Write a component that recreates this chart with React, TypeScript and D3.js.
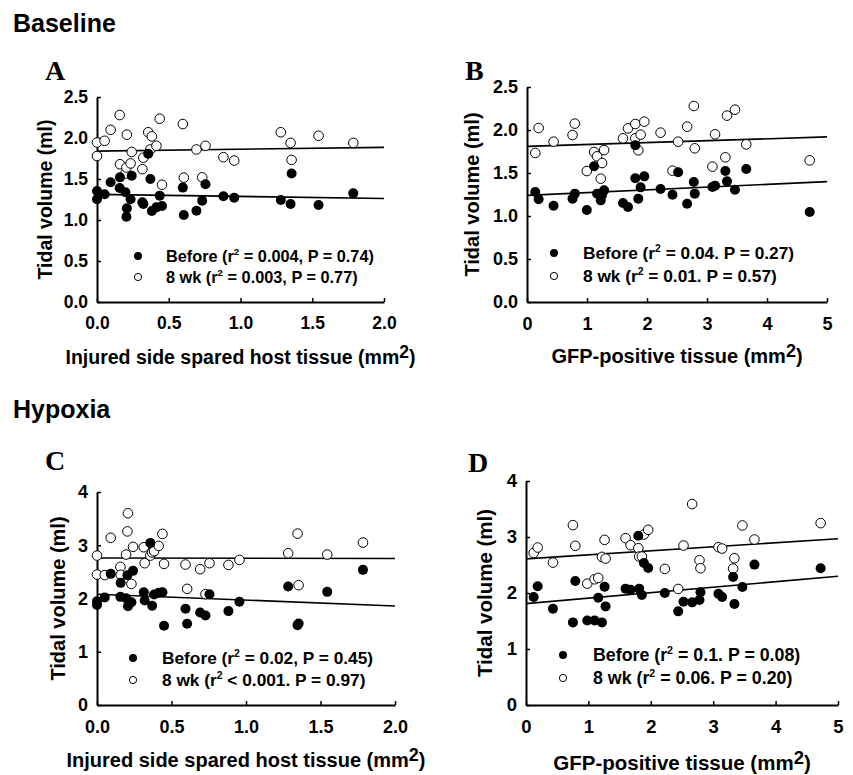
import React, { useEffect, useRef } from "react";
import * as d3 from "d3";

// tissue area (x) and tidal volume before / at 8 wk, one entry per animal
const aTissue = [0, 0, 0.053, 0.095, 0.158, 0.16, 0.198, 0.205, 0.208, 0.234, 0.242, 0.316, 0.323, 0.357, 0.372, 0.382, 0.414, 0.437, 0.453, 0.598, 0.605, 0.693, 0.733, 0.756, 0.881, 0.956, 1.281, 1.349, 1.356, 1.544, 1.786];
const aBefore = [1.354, 1.252, 1.313, 1.46, 1.39, 1.52, 1.338, 1.04, 1.142, 1.252, 1.54, 1.215, 1.195, 1.807, 1.5, 1.11, 1.154, 1.297, 1.17, 1.395, 1.06, 1.113, 1.236, 1.436, 1.289, 1.272, 1.244, 1.195, 1.566, 1.183, 1.325];
const aWeek8 = [1.945, 1.78, 1.966, 2.1, 2.28, 1.68, 1.566, 1.64, 2.04, 1.69, 1.83, 1.62, 1.76, 2.07, 1.86, 2.02, 1.905, 2.235, 1.43, 2.17, 1.517, 1.86, 1.52, 1.905, 1.766, 1.725, 2.07, 1.94, 1.733, 2.027, 1.94];

const bTissue = [0.138, 0.194, 0.443, 0.759, 0.797, 0.997, 1.118, 1.168, 1.229, 1.251, 1.285, 1.6, 1.683, 1.805, 1.805, 1.855, 1.894, 1.955, 2.226, 2.425, 2.519, 2.669, 2.78, 2.796, 3.09, 3.134, 3.306, 3.333, 3.466, 3.654, 4.712];
const bBefore = [1.279, 1.194, 1.12, 1.202, 1.26, 1.07, 1.578, 1.26, 1.182, 1.244, 1.298, 1.151, 1.105, 1.822, 1.438, 1.202, 1.333, 1.461, 1.314, 1.248, 1.508, 1.143, 1.395, 1.26, 1.337, 1.353, 1.523, 1.403, 1.306, 1.547, 1.047];
const bWeek8 = [1.733, 2.023, 1.864, 1.942, 2.074, 1.523, 1.744, 1.694, 1.434, 1.616, 1.767, 1.903, 2.019, 2.07, 1.903, 1.764, 1.946, 2.097, 1.969, 1.527, 1.864, 2.039, 2.279, 1.787, 1.574, 1.95, 1.682, 2.167, 2.236, 1.833, 1.647];

const cTissue = [0, 0, 0.052, 0.092, 0.157, 0.159, 0.195, 0.204, 0.208, 0.231, 0.242, 0.314, 0.32, 0.358, 0.37, 0.383, 0.414, 0.439, 0.45, 0.594, 0.605, 0.692, 0.728, 0.755, 0.882, 0.956, 1.283, 1.346, 1.353, 1.545, 1.785];
const cBefore = [1.88, 1.95, 2.02, 2.463, 2.031, 2.294, 2.006, 2.438, 1.856, 1.931, 2.519, 2.119, 1.963, 3.044, 1.863, 2.075, 2.106, 2.119, 1.488, 1.806, 1.525, 1.738, 1.681, 2.081, 1.763, 1.938, 2.225, 1.5, 1.531, 2.125, 2.538];
const cWeek8 = [2.806, 2.45, 2.44, 3.14, 2.594, 2.444, 2.825, 3.26, 3.6, 2.275, 2.97, 2.963, 2.663, 2.806, 2.863, 2.888, 2.988, 3.213, 2.65, 2.638, 2.181, 2.55, 2.081, 2.663, 2.631, 2.725, 2.85, 3.219, 2.25, 2.825, 3.05];

const dTissue = [0.123, 0.187, 0.432, 0.752, 0.79, 0.982, 1.099, 1.158, 1.217, 1.259, 1.275, 1.596, 1.676, 1.8, 1.814, 1.857, 1.889, 1.958, 2.225, 2.439, 2.524, 2.663, 2.78, 2.796, 3.084, 3.143, 3.319, 3.34, 3.468, 3.661, 4.722];
const dBefore = [1.928, 2.119, 1.719, 1.475, 2.215, 1.51, 1.51, 1.916, 1.475, 2.113, 1.761, 2.078, 2.06, 3.021, 2.078, 1.964, 2.537, 2.448, 2.0, 1.672, 1.845, 1.833, 1.875, 2.012, 1.988, 1.928, 2.287, 1.803, 2.107, 2.507, 2.442];
const dWeek8 = [2.716, 2.812, 2.543, 3.212, 2.842, 2.167, 2.245, 2.269, 2.645, 2.949, 2.615, 2.979, 2.854, 2.8, 2.651, 2.651, 3.045, 3.128, 2.43, 2.072, 2.848, 3.588, 2.585, 2.442, 2.818, 2.794, 2.436, 2.621, 3.206, 2.955, 3.248];

// regression lines: [intercept, slope]
const aFitBefore = [1.313, -0.025];
const aFitWeek8 = [1.84, 0.023];
const bFitBefore = [1.24, 0.032];
const bFitWeek8 = [1.81, 0.022];
const cFitBefore = [2.08, -0.11];
const cFitWeek8 = [2.76, -0.005];
const dFitBefore = [1.81, 0.098];
const dFitWeek8 = [2.61, 0.072];

// ticks
const smallXTicks = [0, 0.5, 1, 1.5, 2];
const gfpXTicks = [0, 1, 2, 3, 4, 5];
const baselineYTicks = [0, 0.5, 1, 1.5, 2, 2.5];
const hypoxiaYTicks = [0, 1, 2, 3, 4];

// legend stats
const beforeStats = ["= 0.004, P = 0.74)", "= 0.04. P = 0.27)", "= 0.02, P = 0.45)", "= 0.1. P = 0.08)"];
const week8Stats = ["= 0.003, P = 0.77)", "= 0.01. P = 0.57)", "< 0.001. P = 0.97)", "= 0.06. P = 0.20)"];

const FONT = "Arial, 'Liberation Sans', Helvetica, sans-serif";

const panels = [
  { letter: "A", lx: 45, ly: 80, x: aTissue, before: aBefore, week8: aWeek8, fitB: aFitBefore, fitW: aFitWeek8,
    xMax: 2, yMax: 2.5, xTicks: smallXTicks, yTicks: baselineYTicks, xFmt: ".1f", yFmt: ".1f",
    left: 97, right: 384, top: 97, bottom: 302, yLabelX: 45, xTitle: "Injured side spared host tissue (mm", titleY: 364,
    tick: 17.5, title: 19.5, leg: 16.3, legMarker: 138, legText: 166, legY: [256, 277], bs: beforeStats[0], ws: week8Stats[0] },
  { letter: "B", lx: 465, ly: 80, x: bTissue, before: bBefore, week8: bWeek8, fitB: bFitBefore, fitW: bFitWeek8,
    xMax: 5, yMax: 2.5, xTicks: gfpXTicks, yTicks: baselineYTicks, xFmt: "d", yFmt: ".1f",
    left: 527, right: 827, top: 87, bottom: 302, yLabelX: 472, xTitle: "GFP-positive tissue (mm", titleY: 363,
    tick: 18, title: 20, leg: 17.3, legMarker: 554, legText: 583, legY: [253, 276], bs: beforeStats[1], ws: week8Stats[1] },
  { letter: "C", lx: 45, ly: 470, x: cTissue, before: cBefore, week8: cWeek8, fitB: cFitBefore, fitW: cFitWeek8,
    xMax: 2, yMax: 4, xTicks: smallXTicks, yTicks: hypoxiaYTicks, xFmt: ".1f", yFmt: "d",
    left: 97, right: 395, top: 492, bottom: 705, yLabelX: 58, xTitle: "Injured side spared host tissue (mm", titleY: 767,
    tick: 18, title: 20, leg: 17.3, legMarker: 133, legText: 162, legY: [658, 680], bs: beforeStats[2], ws: week8Stats[2] },
  { letter: "D", lx: 468, ly: 472, x: dTissue, before: dBefore, week8: dWeek8, fitB: dFitBefore, fitW: dFitWeek8,
    xMax: 5, yMax: 4, xTicks: gfpXTicks, yTicks: hypoxiaYTicks, xFmt: "d", yFmt: "d",
    left: 526, right: 838, top: 481, bottom: 705, yLabelX: 485, xTitle: "GFP-positive tissue (mm", titleY: 770,
    tick: 18.5, title: 20.5, leg: 17.8, legMarker: 563, legText: 593, legY: [655, 678], bs: beforeStats[3], ws: week8Stats[3] },
];

function Panel({ p }: { p: any }) {
  const xRef = useRef<SVGGElement>(null);
  const yRef = useRef<SVGGElement>(null);

  const x = d3.scaleLinear().domain([0, p.xMax]).range([p.left, p.right]);
  const y = d3.scaleLinear().domain([0, p.yMax]).range([p.bottom, p.top]);

  useEffect(() => {
    const xAxis = d3.axisBottom(x)
      .tickValues(p.xTicks)
      .tickFormat(d3.format(p.xFmt))
      .tickSizeInner(-4)
      .tickSizeOuter(0)
      .tickPadding(15);
    const yAxis = d3.axisLeft(y)
      .tickValues(p.yTicks)
      .tickFormat(d3.format(p.yFmt))
      .tickSizeInner(-4)
      .tickSizeOuter(0)
      .tickPadding(9);

    const gx = d3.select(xRef.current);
    gx.selectAll("*").remove();
    gx.call(xAxis as any);
    const gy = d3.select(yRef.current);
    gy.selectAll("*").remove();
    gy.call(yAxis as any);

    [gx, gy].forEach((g: any) => {
      g.attr("font-family", FONT).attr("font-size", p.tick).attr("font-weight", "bold");
      g.select(".domain").attr("stroke-width", 2);
      g.selectAll(".tick line").attr("stroke-width", 1.5);
      g.selectAll("text").attr("fill", "#000");
    });
  });

  const fitPath = (fit: number[]) =>
    d3.line<number>().x((d) => x(d)).y((d) => y(fit[0] + fit[1] * d))([0, p.xMax]) as string;

  const pts = p.x.map((v: number, i: number) => ({ x: v, b: p.before[i], w: p.week8[i] }));

  return (
    <g>
      <text x={p.lx} y={p.ly} fontFamily="'Times New Roman', 'Liberation Serif', serif" fontWeight="bold" fontSize={28}>{p.letter}</text>
      <g ref={xRef} transform={`translate(0,${p.bottom})`} />
      <g ref={yRef} transform={`translate(${p.left},0)`} />
      <path d={fitPath(p.fitB)} stroke="#000" strokeWidth={1.6} fill="none" />
      <path d={fitPath(p.fitW)} stroke="#000" strokeWidth={1.6} fill="none" />
      {pts.map((d: any, i: number) => (
        <circle key={"w" + i} cx={x(d.x)} cy={y(d.w)} r={4.8} fill="#fff" stroke="#000" strokeWidth={1} />
      ))}
      {pts.map((d: any, i: number) => (
        <circle key={"b" + i} cx={x(d.x)} cy={y(d.b)} r={5} fill="#000" />
      ))}
      <text transform={`translate(${p.yLabelX},${(p.top + p.bottom) / 2}) rotate(-90)`} textAnchor="middle" dy="0.35em"
        fontFamily={FONT} fontWeight="bold" fontSize={p.title}>Tidal volume (ml)</text>
      <text x={(p.left + p.right) / 2} y={p.titleY} textAnchor="middle" fontFamily={FONT} fontWeight="bold" fontSize={p.title}>
        {p.xTitle}<tspan dy={-6} fontSize={p.title * 0.9}>2</tspan><tspan dy={6}>)</tspan>
      </text>
      <circle cx={p.legMarker} cy={p.legY[0]} r={4} fill="#000" />
      <circle cx={p.legMarker} cy={p.legY[1]} r={3.6} fill="#fff" stroke="#000" strokeWidth={1} />
      <text x={p.legText} y={p.legY[0]} dy="0.35em" fontFamily={FONT} fontWeight="bold" fontSize={p.leg}>
        Before (r<tspan dy={-7} fontSize={p.leg * 0.6}>2</tspan><tspan dy={7}> {p.bs}</tspan>
      </text>
      <text x={p.legText} y={p.legY[1]} dy="0.35em" fontFamily={FONT} fontWeight="bold" fontSize={p.leg}>
        8 wk (r<tspan dy={-7} fontSize={p.leg * 0.6}>2</tspan><tspan dy={7}> {p.ws}</tspan>
      </text>
    </g>
  );
}

export default function App() {
  return (
    <svg width={853} height={775} style={{ position: "absolute", left: 0, top: 0, background: "#fff" }}>
      <text x={13} y={32} fontFamily={FONT} fontWeight="bold" fontSize={25}>Baseline</text>
      <text x={13} y={418} fontFamily={FONT} fontWeight="bold" fontSize={25}>Hypoxia</text>
      {panels.map((p) => <Panel key={p.letter} p={p} />)}
    </svg>
  );
}
